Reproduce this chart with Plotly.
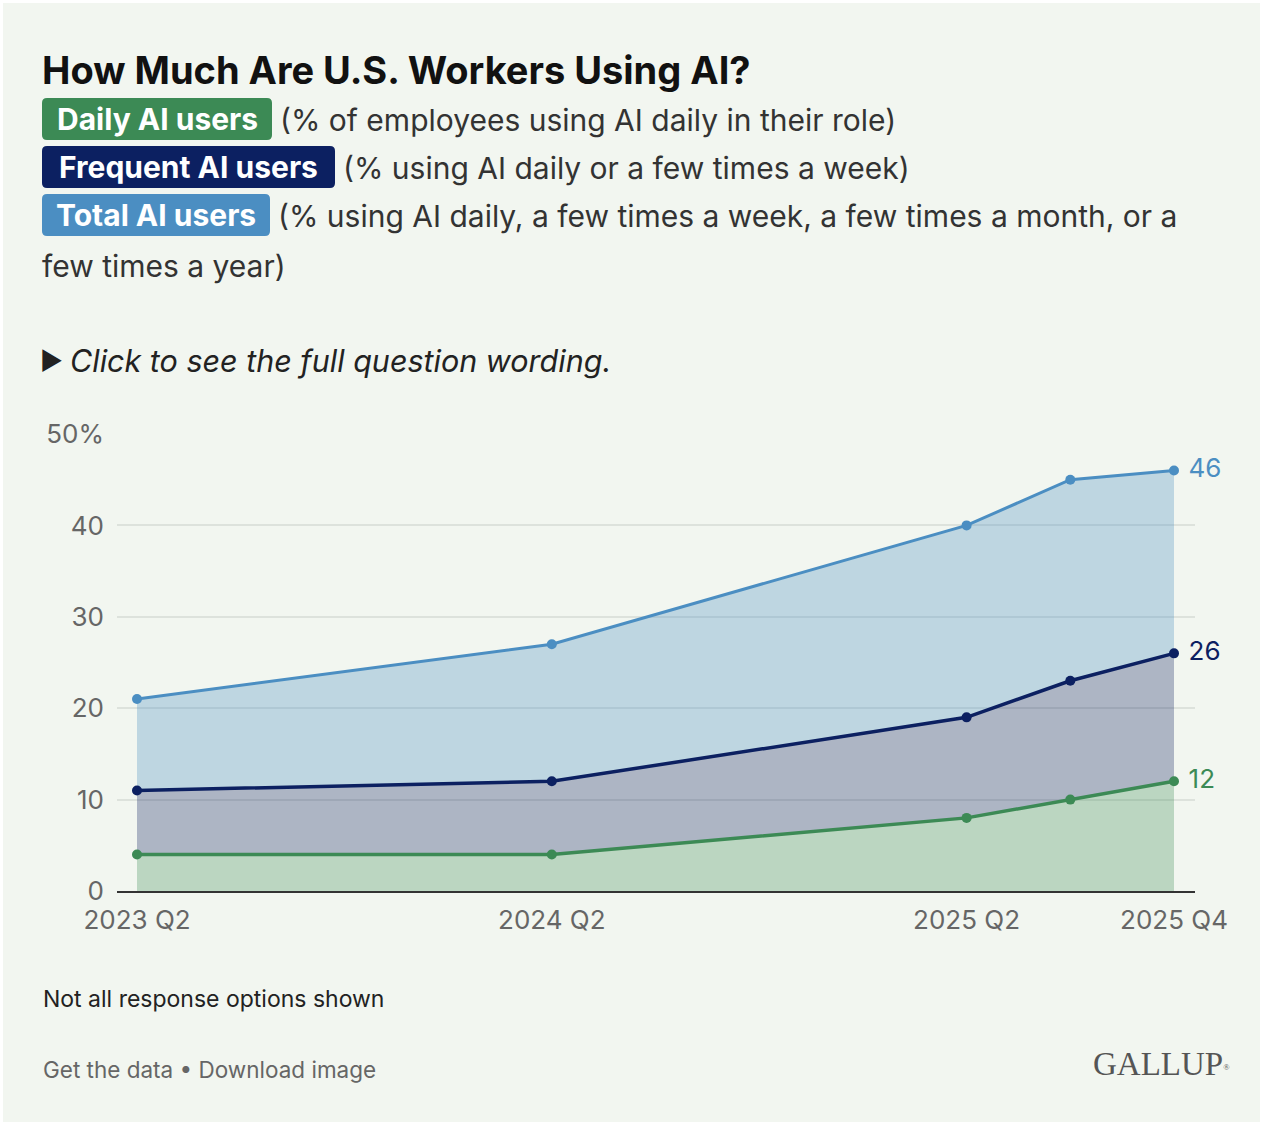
import plotly.graph_objects as go

# Data
quarters = ["2023 Q2", "2024 Q2", "2025 Q2", "2025 Q3", "2025 Q4"]
daily_users = [4, 4, 8, 10, 12]
frequent_users = [11, 12, 19, 23, 26]
total_users = [21, 27, 40, 45, 46]

tick_quarters = ["2023 Q2", "2024 Q2", "2025 Q2", "2025 Q4"]
y_ticks = [0, 10, 20, 30, 40, 50]
y_tick_labels = ["0", "10", "20", "30", "40", "50%"]

BG = "#f2f6f0"
GREEN = "#3c8a55"
NAVY = "#0c2061"
BLUE = "#4b8ec2"
FONT = "Inter, Roboto, sans-serif"

W, H = 1263, 1125
L, R, T, B = 117, 68, 434, 234
PW, PH = W - L - R, H - T - B


def q_index(label):
    # "2025 Q3" -> running quarter number, so quarters are evenly spaced
    year, q = label.split(" Q")
    return int(year) * 4 + int(q) - 1


x_vals = [q_index(q) for q in quarters]
x0 = x_vals[0]
x_vals = [x - x0 for x in x_vals]
tick_vals = [q_index(q) - x0 for q in tick_quarters]


def px(x):
    return (x - L) / PW


def py(y):
    return (H - B - y) / PH


def rounded_box(x0, y0, x1, y1, r=5):
    # rounded rectangle in pixel coords -> svg path in paper coords
    pts = [
        ("M", [(x0 + r, y0)]), ("L", [(x1 - r, y0)]), ("Q", [(x1, y0), (x1, y0 + r)]),
        ("L", [(x1, y1 - r)]), ("Q", [(x1, y1), (x1 - r, y1)]),
        ("L", [(x0 + r, y1)]), ("Q", [(x0, y1), (x0, y1 - r)]),
        ("L", [(x0, y0 + r)]), ("Q", [(x0, y0), (x0 + r, y0)]),
    ]
    out = ""
    for cmd, coords in pts:
        out += cmd + " ".join(f"{px(a):.5f},{py(b):.5f}" for a, b in coords) + " "
    return out + "Z"


fig = go.Figure()

series = [
    ("Daily AI users", daily_users, GREEN, "rgba(60,138,85,0.3)", "tozeroy", 3.5),
    ("Frequent AI users", frequent_users, NAVY, "rgba(12,31,95,0.3)", "tonexty", 3.5),
    ("Total AI users", total_users, BLUE, "rgba(75,142,194,0.31)", "tonexty", 3),
]
for name, vals, color, fillc, fill, lw in series:
    fig.add_trace(go.Scatter(
        x=x_vals, y=vals, name=name,
        mode="lines+markers",
        line=dict(color=color, width=lw),
        marker=dict(color=color, size=10),
        fill=fill, fillcolor=fillc,
        showlegend=False,
    ))

# value labels at the last quarter (hidden marker keeps the text offset)
for name, vals, color, *_ in series:
    fig.add_trace(go.Scatter(
        x=x_vals[-1:], y=vals[-1:], mode="markers+text",
        marker=dict(size=10, opacity=0),
        text=[" " + str(v) for v in vals[-1:]],
        textposition="middle right",
        textfont=dict(family=FONT, size=26, color=color),
        cliponaxis=False, showlegend=False,
    ))

annotations = []
shapes = [dict(type="rect", xref="paper", yref="paper",
               x0=px(0), x1=px(W), y0=py(H), y1=py(0),
               line=dict(color="white", width=6), layer="below")]


def add_text(text, x, y, size=30, color="#333", **kw):
    extra = kw.pop("font_extra", {})
    annotations.append(dict(
        text=text, x=px(x), y=py(y), xref="paper", yref="paper",
        xanchor="left", yanchor="middle", showarrow=False,
        font=dict(family=FONT, size=size, color=color, **extra),
        **kw,
    ))


# title
add_text("<b>How Much Are U.S. Workers Using AI?</b>", 40, 70, size=38, color="#111")

# legend badges with descriptions
badges = [
    ("Daily AI users", GREEN, 230, 119, 278, "(% of employees using AI daily in their role)"),
    ("Frequent AI users", NAVY, 293, 167, 341, "(% using AI daily or a few times a week)"),
    ("Total AI users", BLUE, 228, 215, 276,
     "(% using AI daily, a few times a week, a few times a month, or a"),
]
for label, color, bw, yc, tx, desc in badges:
    shapes.append(dict(type="path", xref="paper", yref="paper",
                       path=rounded_box(42, yc - 21, 42 + bw, yc + 21),
                       fillcolor=color, line=dict(width=0)))
    annotations.append(dict(
        text="<b>" + label + "</b>", x=px(42 + bw / 2), y=py(yc), xref="paper", yref="paper",
        xanchor="center", yanchor="middle", showarrow=False,
        font=dict(family=FONT, size=30, color="white"),
    ))
    add_text(desc, tx, yc + 1)
add_text("few times a year)", 40, 266)

# question wording toggle
add_text("▶", 38, 361, size=25, color="#222")
add_text("Click to see the full question wording.", 68, 360, size=30.5, color="#222",
         font_extra=dict(style="italic"))

# footer
add_text("Not all response options shown", 41, 999, size=23, color="#222")
add_text("Get the data • Download image", 41, 1069, size=22.5, color="#666")
annotations.append(dict(
    text='GALLUP<span style="font-size:12px"><sup>®</sup></span>',
    x=px(1232), y=py(1064), xref="paper", yref="paper",
    xanchor="right", yanchor="middle", showarrow=False,
    font=dict(family="Liberation Serif, DejaVu Serif, serif", size=33, color="#555"),
))

fig.update_layout(
    width=W, height=H,
    margin=dict(l=L, r=R, t=T, b=B),
    paper_bgcolor=BG, plot_bgcolor=BG,
    annotations=annotations,
    shapes=shapes,
    xaxis=dict(
        range=[-(137 - L) / 103.7, 10 + (L + PW - 1174) / 103.7],
        tickvals=tick_vals, ticktext=tick_quarters,
        tickfont=dict(family=FONT, size=26, color="#666"),
        showgrid=False, zeroline=False,
        showline=True, linecolor="#333", linewidth=2,
        ticks="", ticklabelstandoff=5,
    ),
    yaxis=dict(
        range=[0, 50],
        tickvals=y_ticks, ticktext=y_tick_labels,
        tickfont=dict(family=FONT, size=26, color="#666"),
        showgrid=True, gridcolor="#dde2dc", gridwidth=1.5,
        zeroline=False, ticks="", ticklabelstandoff=12,
    ),
    hovermode=False,
)

fig.write_html("out.html", config={"displayModeBar": False},
               post_script="document.body.style.margin='0';")
